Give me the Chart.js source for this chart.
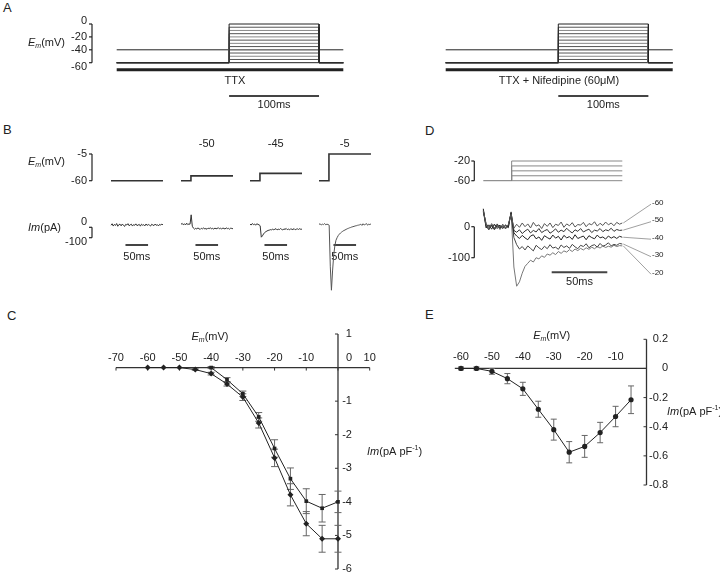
<!DOCTYPE html>
<html>
<head>
<meta charset="utf-8">
<script src="https://cdn.jsdelivr.net/npm/chart.js@4/dist/chart.umd.min.js"></script>
<style>
  html, body { margin: 0; padding: 0; background: #fff; }
  #page { position: relative; width: 720px; height: 574px; overflow: hidden; font-family: "Liberation Sans", Arial, sans-serif; }
  #page canvas { position: absolute; }
  .letter { position: absolute; font-size: 13px; line-height: 13px; color: #222; }
</style>
</head>
<body>
<div id="page">
  <div class="letter" style="left:3px;top:1px">A</div>
  <div class="letter" style="left:3px;top:123px">B</div>
  <div class="letter" style="left:7px;top:309px">C</div>
  <div class="letter" style="left:425px;top:124px">D</div>
  <div class="letter" style="left:425px;top:308px">E</div>
</div>
<script>
// ---- A: voltage protocol (mV / ms)
const aStepLevels = [0, -5, -10, -15, -20, -25, -30, -35, -40, -45, -50, -55, -60];
const aHolding = -60;
const aPrepulse = -40;
const aDrugBar = -71;
const aStepOn = 125, aStepOff = 225, aSweepEnd = 252;
const aTicks = [0, -20, -40, -60];
const aDrugs = ['TTX', 'TTX + Nifedipine (60\u03bcM)'];

// ---- B: single steps and their currents (pA), sampled every 2.5 ms
const bLevels = [-60, -50, -45, -5];
const bStepOn = 22, bSweepEnd = 115, bDt = 2.5;
const bCurrents = [
  [20, 34, 12, 28, 18, 36, 10, 26, 30, 14, 32, 20, 8, 28, 22, 35, 15, 24, 30, 12, 26, 19, 33, 16, 22, 28, 11, 30, 20, 25, 14, 32, 18, 27, 21, 12, 29, 23, 16, 31, 19, 26, 13, 28, 22, 30, 24],
  [28, 38, 24, 34, 22, 40, 26, 32, 30, 120, 10, -8, -18, -10, -16, -6, -14, -20, -9, -15, -5, -17, -11, -19, -8, -13, -4, -16, -10, -18, -7, -14, -12, -3, -15, -9, -17, -6, -12, -16, -5, -13, -10, -18, -8, -11, -14],
  [30, 22, 36, 26, 32, 20, 34, 28, 24, 15, -95, -82, -64, -50, -42, -36, -30, -28, -22, -27, -16, -24, -19, -13, -25, -18, -22, -12, -20, -26, -15, -21, -11, -23, -17, -25, -14, -19, -22, -12, -24, -18, -15, -21, -13, -20, -17],
  [28, 34, 22, 30, 26, 36, 24, 30, 27, 20, -380, -605, -420, -270, -180, -125, -100, -80, -66, -55, -46, -38, -31, -26, -20, -14, -10, -5, -2, 3, 6, 9, 13, 15, 19, 21, 24, 30, 18, 34, 22, 28, 36, 20, 30, 26, 33]
];

// ---- C: I-V relation (pA/pF), diamonds and squares
const cVolt = [-60, -55, -50, -45, -40, -35, -30, -25, -20, -15, -10, -5, 0];
const cDiamond = [0, 0, 0, -0.06, -0.18, -0.49, -0.88, -1.65, -2.69, -3.79, -4.65, -5.1, -5.1];
const cDiamondErr = [0, 0, 0, 0.02, 0.04, 0.06, 0.1, 0.15, 0.26, 0.33, 0.36, 0.4, 0.4];
const cSquareVolt = [-40, -35, -30, -25, -20, -15, -10, -5, 0];
const cSquare = [0, -0.36, -0.78, -1.47, -2.41, -3.31, -3.98, -4.19, -4.0];
const cSquareErr = [0.03, 0.06, 0.08, 0.13, 0.26, 0.32, 0.37, 0.41, 0.32];
const cXTicks = [-70, -60, -50, -40, -30, -20, -10, 0, 10];
const cYTicks = [1, 0, -1, -2, -3, -4, -5, -6];

// ---- D: step family and currents (pA), sampled every 2.5 ms
const dLevels = [-60, -50, -40, -30, -20];
const dStepOn = 25.5, dSweepEnd = 125, dDt = 2.5;
const dCurrents = [
  [52, 8, -6, 10, -4, 6, -9, 4, -2, 7, 40, -5, 8, -2, 12, 0, 9, -4, 14, 2, 6, -6, 10, 1, 12, -3, 8, 4, 15, -2, 9, 3, 13, -1, 7, 5, 14, 0, 10, 6, 16, 2, 11, 4, 15, 6, 12, 3, 14, 8, 12],
  [48, 2, -10, 6, -8, 9, -4, 2, -7, 3, 44, -12, -18, -10, -22, -14, -8, -20, -12, -17, -6, -19, -13, -9, -21, -15, -7, -18, -11, -16, -5, -14, -20, -10, -15, -6, -17, -12, -8, -19, -11, -14, -6, -16, -10, -13, -5, -15, -9, -12, -11],
  [58, -4, 6, -8, 8, -2, 5, -6, 4, -3, 46, -20, -30, -38, -28, -36, -42, -30, -26, -39, -33, -44, -29, -35, -40, -27, -37, -31, -43, -28, -36, -32, -41, -26, -38, -34, -30, -42, -29, -35, -39, -27, -36, -33, -40, -30, -37, -32, -38, -31, -34],
  [50, 10, -2, 4, -10, 3, -5, 8, -3, 5, 42, -35, -58, -72, -64, -75, -62, -70, -78, -60, -68, -74, -63, -71, -58, -69, -66, -73, -59, -67, -62, -70, -57, -65, -71, -60, -64, -55, -68, -61, -58, -66, -54, -63, -59, -52, -62, -57, -60, -54, -56],
  [55, 4, -8, 2, 6, -7, 2, -4, 7, -2, 48, -130, -192, -178, -150, -128, -118, -108, -114, -100, -104, -94, -99, -88, -92, -84, -90, -80, -86, -78, -82, -74, -80, -72, -77, -70, -75, -68, -73, -66, -71, -64, -69, -62, -67, -63, -66, -60, -64, -61, -62]
];
const dColors = ['#555', '#333', '#222', '#444', '#777'];

// ---- E: I-V relation (pA/pF)
const eVolt = [-60, -55, -50, -45, -40, -35, -30, -25, -20, -15, -10, -5];
const eCurrent = [0, 0, -0.02, -0.07, -0.14, -0.28, -0.42, -0.575, -0.535, -0.44, -0.33, -0.215];
const eErr = [0.01, 0.01, 0.02, 0.035, 0.045, 0.055, 0.072, 0.073, 0.075, 0.07, 0.07, 0.095];
const eXTicks = [-60, -50, -40, -30, -20, -10];
const eYTicks = [0.2, 0, -0.2, -0.4, -0.6, -0.8];

const FONT = '"Liberation Sans", Arial, Helvetica, sans-serif';
const INK = '#222';
const page = document.getElementById('page');

// min/max so that value v1 lands on pixel p1 and v2 on p2, for a scale spanning lo..hi
function fit(v1, p1, v2, p2, lo, hi) {
  const k = (p2 - p1) / (v2 - v1);
  const a = v1 + (lo - p1) / k, b = v1 + (hi - p1) / k;
  return [Math.min(a, b), Math.max(a, b)];
}

function series(values, dt) {
  return values.map((v, i) => ({ x: i * dt, y: v }));
}

function makeChart(box, axes, datasets, draw, drawAfter) {
  const cv = document.createElement('canvas');
  cv.width = box.w; cv.height = box.h;
  cv.style.left = box.x + 'px'; cv.style.top = box.y + 'px';
  page.appendChild(cv);

  const scales = {};
  for (const [id, a] of Object.entries(axes)) {
    const r = id[0] === 'x'
      ? fit(a[0], a[1] - box.x, a[2], a[3] - box.x, 0, box.w)
      : fit(a[0], a[1] - box.y, a[2], a[3] - box.y, 0, box.h);
    scales[id] = { type: 'linear', display: false, min: r[0], max: r[1] };
  }

  const at = chart => ({
    x: v => chart.scales.x.getPixelForValue(v) + box.x,
    y: (v, id = 'y') => chart.scales[id].getPixelForValue(v) + box.y
  });
  const hook = fn => chart => {
    if (!fn) return;
    const ctx = chart.ctx;
    ctx.save();
    ctx.translate(-box.x, -box.y);
    ctx.strokeStyle = INK; ctx.fillStyle = INK; ctx.lineWidth = 1;
    fn(ctx, at(chart));
    ctx.restore();
  };

  return new Chart(cv, {
    type: 'line',
    data: {
      datasets: datasets.map(d => Object.assign({
        borderColor: INK, borderWidth: 1, pointRadius: 0, tension: 0, fill: false, clip: false
      }, d))
    },
    options: {
      responsive: false, animation: false, events: [],
      layout: { padding: 0, autoPadding: false },
      plugins: { legend: { display: false }, tooltip: { enabled: false } },
      scales
    },
    plugins: [{ id: 'deco', beforeDatasetsDraw: hook(draw), afterDatasetsDraw: hook(drawAfter) }]
  });
}

// ---------- text helpers
function runs(ctx, x, y, parts, align) {
  let w = 0;
  for (const p of parts) { ctx.font = p[1] + ' ' + FONT; w += ctx.measureText(p[0]).width; }
  let cx = align === 'center' ? x - w / 2 : align === 'right' ? x - w : x;
  ctx.textAlign = 'left'; ctx.textBaseline = 'middle';
  for (const p of parts) {
    ctx.font = p[1] + ' ' + FONT;
    ctx.fillText(p[0], cx, y + p[2]);
    cx += ctx.measureText(p[0]).width;
  }
}
const emLabel = (ctx, x, y, align) => runs(ctx, x, y, [['E', 'italic 11px', 0], ['m', 'italic 7px', 3], ['(mV)', '11px', 0]], align);
const imDensity = (ctx, x, y) => runs(ctx, x, y, [['Im', 'italic 11px', 0], ['(pA pF', '11px', 0], ['-1', '7px', -4], [')', '11px', 0]], 'left');

function text(ctx, s, x, y, align, size = 11) {
  ctx.font = size + 'px ' + FONT;
  ctx.textAlign = align; ctx.textBaseline = 'middle';
  ctx.fillText(s, x, y);
}
function hline(ctx, x1, x2, y, w = 1) {
  ctx.lineWidth = w; ctx.beginPath(); ctx.moveTo(x1, y); ctx.lineTo(x2, y); ctx.stroke();
}
function vline(ctx, x, y1, y2, w = 1) {
  ctx.lineWidth = w; ctx.beginPath(); ctx.moveTo(x, y1); ctx.lineTo(x, y2); ctx.stroke();
}
// vertical calibration bracket with ticks pointing left
function bracket(ctx, x, ys) {
  vline(ctx, x, Math.min(...ys), Math.max(...ys), 1.2);
  for (const y of ys) hline(ctx, x - 3, x, y, 1.2);
}
function scaleBar(ctx, x1, x2, y, label, ty) {
  ctx.strokeStyle = '#444';
  hline(ctx, x1, x2, y, 2);
  text(ctx, label, (x1 + x2) / 2, ty, 'center');
}

// ---------- A
function protocolA(i) {
  const sweeps = aStepLevels.map((lv, k) => ({
    data: [{ x: 0, y: aHolding }, { x: aStepOn, y: aHolding }, { x: aStepOn, y: lv }, { x: aStepOff, y: lv }, { x: aStepOff, y: aHolding }, { x: aSweepEnd, y: aHolding }],
    borderColor: (lv === 0 || lv === aHolding) ? INK : (k % 2 ? '#555' : '#888')
  }));
  sweeps.push({ data: [{ x: 0, y: aPrepulse }, { x: aSweepEnd, y: aPrepulse }] });
  sweeps.push({ data: [{ x: 0, y: aDrugBar }, { x: aSweepEnd, y: aDrugBar }], borderWidth: 3 });
  const left = i === 0 ? 116.7 : 445.7, right = i === 0 ? 343.3 : 672.7;
  makeChart({ x: i * 360, y: 0, w: 360, h: 115 },
    { x: [0, left, aSweepEnd, right], y: [0, 24, -60, 62.7] },
    sweeps,
    (ctx, p) => {
      if (i === 0) {
        bracket(ctx, 92, aTicks.map(v => p.y(v)));
        aTicks.forEach((v, k) => text(ctx, String(v), 87, p.y(v) + (k === 0 ? -3 : k === aTicks.length - 1 ? 4 : 0), 'right'));
        emLabel(ctx, 28, 43, 'left');
      }
      text(ctx, aDrugs[i], i === 0 ? 235 : 559, 81, 'center');
      scaleBar(ctx, p.x(aStepOn), p.x(aStepOff), 96, '100ms', 105);
    });
}
protocolA(0);
protocolA(1);

// ---------- B
const bColLeft = [111, 181, 250, 319];
bLevels.forEach((lv, i) => {
  const box = i === 0 ? { x: 0, y: 135, w: bColLeft[0] + 62, h: 165 } : { x: bColLeft[i] - 14, y: 135, w: 72, h: 165 };
  const volt = lv === bLevels[0]
    ? [{ x: 0, y: lv }, { x: bSweepEnd, y: lv }]
    : [{ x: 0, y: bLevels[0] }, { x: bStepOn, y: bLevels[0] }, { x: bStepOn, y: lv }, { x: bSweepEnd, y: lv }];
  makeChart(box,
    { x: [0, bColLeft[i], 50, bColLeft[i] + 22.6], yV: [-60, 180.7, -5, 154], yI: [0, 227.3, -100, 237.7] },
    [
      { data: volt, yAxisID: 'yV', borderWidth: 1.6, borderColor: '#333' },
      { data: series(bCurrents[i], bDt), yAxisID: 'yI', borderColor: i === 3 ? '#555' : '#333' }
    ],
    (ctx, p) => {
      if (i === 0) {
        bracket(ctx, 92, [p.y(-5, 'yV'), p.y(-60, 'yV')]);
        text(ctx, '-5', 87, p.y(-5, 'yV'), 'right');
        text(ctx, '-60', 87, p.y(-60, 'yV'), 'right');
        emLabel(ctx, 28, 162, 'left');
        bracket(ctx, 92, [p.y(0, 'yI'), p.y(-100, 'yI')]);
        text(ctx, '0', 87, p.y(0, 'yI') - 5.5, 'right');
        text(ctx, '-100', 87, p.y(-100, 'yI') + 4, 'right');
        runs(ctx, 28, 228, [['Im', 'italic 11px', 0], ['(pA)', '11px', 0]], 'left');
      } else {
        text(ctx, String(lv), p.x(57), 144, 'center');
      }
      scaleBar(ctx, p.x(32), p.x(82), 245, '50ms', 257);
    });
});

// ---------- C
makeChart({ x: 40, y: 315, w: 420, h: 259 },
  { x: [-70, 116, 10, 369.7], y: [1, 334, -6, 569] },
  [
    { data: cVolt.map((v, k) => ({ x: v, y: cDiamond[k] })), pointStyle: 'rectRot', pointRadius: 3,
      pointBackgroundColor: INK, pointBorderColor: INK, pointBorderWidth: 0 },
    { data: cSquareVolt.map((v, k) => ({ x: v, y: cSquare[k] })), pointStyle: 'rect', pointRadius: 2.6,
      pointBackgroundColor: INK, pointBorderColor: INK, pointBorderWidth: 0 }
  ],
  (ctx, p) => {
    const x0 = p.x(0), y0 = p.y(0);
    ctx.strokeStyle = '#333';
    hline(ctx, p.x(cXTicks[0]), p.x(cXTicks[cXTicks.length - 1]), y0, 1.3);
    vline(ctx, x0, p.y(cYTicks[0]), p.y(cYTicks[cYTicks.length - 1]), 1.3);
    cXTicks.forEach(v => {
      vline(ctx, p.x(v), y0, y0 + 3);
      text(ctx, String(v), p.x(v) + (v === 0 ? 11 : 0), y0 - 10, 'center');
    });
    cYTicks.forEach(v => {
      hline(ctx, x0 - 3, x0, p.y(v));
      if (v !== 0) text(ctx, String(v), x0 + 14, p.y(v), 'right');
    });
    // error bars
    ctx.strokeStyle = '#666';
    const bars = (xs, ys, es) => xs.forEach((v, k) => {
      if (!es[k]) return;
      const x = p.x(v), a = p.y(ys[k] + es[k]), b = p.y(ys[k] - es[k]);
      vline(ctx, x, a, b); hline(ctx, x - 3.5, x + 3.5, a); hline(ctx, x - 3.5, x + 3.5, b);
    });
    bars(cVolt, cDiamond, cDiamondErr);
    bars(cSquareVolt, cSquare, cSquareErr);
    emLabel(ctx, 210, 337, 'center');
    imDensity(ctx, 367, 452);
  });

// ---------- D
makeChart({ x: 430, y: 140, w: 260, h: 150 },
  { x: [0, 483.3, 50, 538.9], yV: [-20, 161, -60, 180.7], yI: [0, 226.7, -100, 257.7] },
  [
    { data: [{ x: 0, y: -60 }, { x: dStepOn, y: -60 }], yAxisID: 'yV', borderColor: '#777' },
    ...dLevels.map(lv => ({ data: [{ x: dStepOn, y: -60 }, { x: dStepOn, y: lv }, { x: dSweepEnd, y: lv }], yAxisID: 'yV', borderColor: '#888' })),
    ...dCurrents.map((c, k) => ({ data: series(c, dDt), yAxisID: 'yI', borderColor: dColors[k] }))
  ],
  (ctx, p) => {
    bracket(ctx, 474.3, [p.y(-20, 'yV'), p.y(-60, 'yV')]);
    text(ctx, '-20', 470, p.y(-20, 'yV'), 'right');
    text(ctx, '-60', 470, p.y(-60, 'yV'), 'right');
    bracket(ctx, 474.3, [p.y(0, 'yI'), p.y(-100, 'yI')]);
    text(ctx, '0', 470, p.y(0, 'yI'), 'right');
    text(ctx, '-100', 470, p.y(-100, 'yI'), 'right');
    // labels for each trace
    ctx.strokeStyle = '#888';
    dLevels.forEach((lv, k) => {
      const c = dCurrents[k];
      const ly = 202.7 + k * 17.5;
      ctx.lineWidth = 0.8;
      ctx.beginPath(); ctx.moveTo(p.x(dSweepEnd) + 1, p.y(c[c.length - 1], 'yI')); ctx.lineTo(651, ly + 1.5); ctx.stroke();
      text(ctx, String(lv), 652, ly, 'left', 8);
    });
    scaleBar(ctx, p.x(61.5), p.x(111.5), 272.3, '50ms', 282);
  });

// ---------- E
makeChart({ x: 420, y: 315, w: 300, h: 200 },
  { x: [-60, 461, 0, 646.5], y: [0.2, 339.3, -0.8, 485] },
  [
    { data: eVolt.map((v, k) => ({ x: v, y: eCurrent[k] })), pointStyle: 'circle', pointRadius: 2.6,
      pointBackgroundColor: INK, pointBorderColor: INK, pointBorderWidth: 0 }
  ],
  (ctx, p) => {
    const x0 = p.x(0), y0 = p.y(0);
    ctx.strokeStyle = '#333';
    hline(ctx, p.x(-62), x0, y0, 1.3);
    vline(ctx, x0, p.y(eYTicks[0]), p.y(eYTicks[eYTicks.length - 1]), 1.3);
    eXTicks.forEach(v => text(ctx, String(v), p.x(v), y0 - 11, 'center'));
    eYTicks.forEach(v => {
      hline(ctx, x0 - 3, x0, p.y(v));
      text(ctx, String(v), 668, p.y(v), 'right');
    });
    ctx.strokeStyle = '#666';
    eVolt.forEach((v, k) => {
      const x = p.x(v), a = p.y(eCurrent[k] + eErr[k]), b = p.y(eCurrent[k] - eErr[k]);
      vline(ctx, x, a, b); hline(ctx, x - 3, x + 3, a); hline(ctx, x - 3, x + 3, b);
    });
    emLabel(ctx, 551.7, 336, 'center');
    imDensity(ctx, 667, 412);
  });
</script>
</body>
</html>
